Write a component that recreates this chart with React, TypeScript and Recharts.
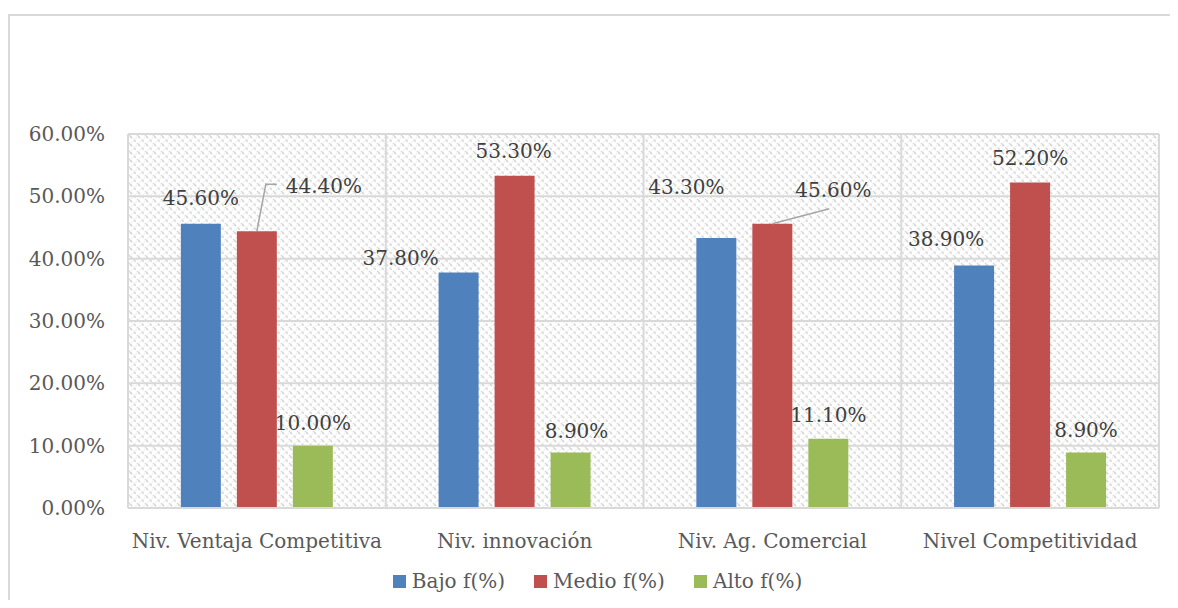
import { BarChart, Bar, XAxis, YAxis, CartesianGrid, Legend, LabelList } from "recharts";

const categories = ["Niv. Ventaja Competitiva", "Niv. innovación", "Niv. Ag. Comercial", "Nivel Competitividad"];
const bajo = [45.6, 37.8, 43.3, 38.9];
const medio = [44.4, 53.3, 45.6, 52.2];
const alto = [10.0, 8.9, 11.1, 8.9];
const yTicks = [0, 10, 20, 30, 40, 50, 60];

// label nudges (dx, dy of text centre from bar top centre), as moved by hand in the original
const bajoLabelPos = [[0, -26], [-58, -14], [-30, -51], [-28, -27]];
const medioLabelPos = [[67, -45], [-1, -25], [61, -34], [0, -25]];
const altoLabelPos = [[0, -23], [6, -22], [0, -24], [0, -23]];
const medioLeader = [true, false, true, false];

const data = categories.map((name, i) => ({ name, bajo: bajo[i], medio: medio[i], alto: alto[i] }));

const FONT = "'DejaVu Serif', serif";

const makeLabel = (pos: number[][], leader?: boolean[]) => (props: any) => {
  const { x, y, width, value, index } = props;
  const cx = Number(x) + Number(width) / 2;
  const top = Number(y);
  const [dx, dy] = pos[index];
  let line = null;
  if (leader && leader[index]) {
    if (dx > 63) {
      line = (
        <polyline
          points={`${cx},${top} ${cx + 9},${top + dy - 2} ${cx + 20},${top + dy - 2}`}
          fill="none"
          stroke="#a6a6a6"
          strokeWidth={1.5}
        />
      );
    } else {
      line = <line x1={cx} y1={top} x2={cx + 57} y2={top - 15} stroke="#a6a6a6" strokeWidth={1.5} />;
    }
  }
  return (
    <g>
      {line}
      <text
        x={cx + dx}
        y={top + dy}
        textAnchor="middle"
        dominantBaseline="central"
        fontSize={20}
        fontFamily={FONT}
        fill="#404040"
      >
        {Number(value).toFixed(2)}%
      </text>
    </g>
  );
};

const legendItems = [
  { label: "Bajo f(%)", color: "#4f81bd" },
  { label: "Medio f(%)", color: "#c0504d" },
  { label: "Alto f(%)", color: "#9bbb59" },
];

const renderLegend = () => (
  <div style={{ display: "flex", justifyContent: "center", gap: 29, fontFamily: FONT, fontSize: 20, color: "#595959", height: 30, alignItems: "center", paddingLeft: 8 }}>
    {legendItems.map((it) => (
      <div key={it.label} style={{ display: "flex", alignItems: "center", gap: 6 }}>
        <span style={{ display: "inline-block", width: 13, height: 13, background: it.color }} />
        <span>{it.label}</span>
      </div>
    ))}
  </div>
);

export default function App() {
  return (
    <div style={{ width: 1170, height: 592, overflow: "hidden" }}>
      <div style={{ paddingTop: 6 }}>
        <div style={{ width: 1165, height: 620, border: "2px solid #d9d9d9", position: "relative", background: "#fff" }}>
          <BarChart
            width={1165}
            height={592}
            data={data}
            margin={{ top: 118, right: 16, left: 18, bottom: 12 }}
            barGap={16}
            barCategoryGap="20.5%"
          >
            <defs>
              <pattern id="hatch" width="8" height="8" patternUnits="userSpaceOnUse">
                <rect width="8" height="8" fill="#ffffff" />
                <path d="M0,0 L8,8" stroke="#d6d6d6" strokeWidth={1.6} strokeDasharray="3 2" />
                <path d="M8,0 L0,8" stroke="#ececec" strokeWidth={1} />
              </pattern>
            </defs>
            <CartesianGrid
              stroke="#d9d9d9"
              strokeWidth={2}
              fill="url(#hatch)"
              fillOpacity={1}
              verticalCoordinatesGenerator={({ offset }: any) =>
                [0, 1, 2, 3, 4].map((i) => offset.left + (offset.width * i) / 4)
              }
            />
            <XAxis
              dataKey="name"
              tickLine={false}
              axisLine={{ stroke: "#d9d9d9", strokeWidth: 2 }}
              tickMargin={20}
              height={58}
              tick={{ fontSize: 20, fontFamily: FONT, fill: "#595959" }}
            />
            <YAxis
              domain={[0, 60]}
              ticks={yTicks}
              tickFormatter={(v: number) => `${v.toFixed(2)}%`}
              tickLine={false}
              axisLine={false}
              width={100}
              tickMargin={17}
              tick={{ fontSize: 20, fontFamily: FONT, fill: "#595959" }}
            />
            <Legend verticalAlign="bottom" content={renderLegend} />
            <Bar dataKey="bajo" name="Bajo f(%)" fill="#4f81bd" isAnimationActive={false}>
              <LabelList dataKey="bajo" content={makeLabel(bajoLabelPos)} />
            </Bar>
            <Bar dataKey="medio" name="Medio f(%)" fill="#c0504d" isAnimationActive={false}>
              <LabelList dataKey="medio" content={makeLabel(medioLabelPos, medioLeader)} />
            </Bar>
            <Bar dataKey="alto" name="Alto f(%)" fill="#9bbb59" isAnimationActive={false}>
              <LabelList dataKey="alto" content={makeLabel(altoLabelPos)} />
            </Bar>
          </BarChart>
        </div>
      </div>
    </div>
  );
}
